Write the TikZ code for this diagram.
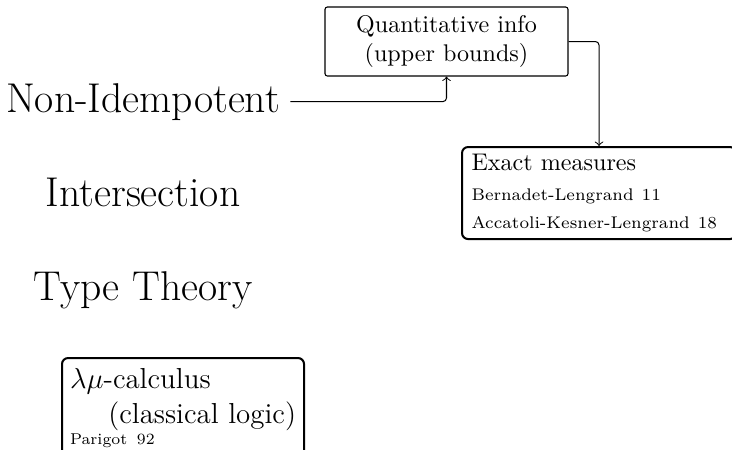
\documentclass[tikz,border=0pt]{standalone}
\usetikzlibrary{arrows}
\begin{document}
\begin{tikzpicture}[x=0.415pt,y=-0.415pt,
  big/.style={font=\LARGE, inner sep=0pt},
  qbox/.style={draw, rounded corners=1pt, line width=0.45pt, align=center,
    minimum width=243*0.415pt, minimum height=69*0.415pt, inner sep=0pt},
  refbox/.style={draw, rounded corners=2.5pt, line width=0.85pt, align=left,
    anchor=north west, inner sep=0pt},
  conn/.style={->, line width=0.42pt, rounded corners=1.5pt}
]
\clip (0,0) rectangle (732,449);
\node[qbox] (q) at (446.5,41.5) {Quantitative info\\(upper bounds)};
\node[big, anchor=base] (ni) at (143,112) {Non-Idempotent};
\node[big, anchor=base] (is) at (143,206) {Intersection};
\node[big, anchor=base] (tt) at (143,300) {Type Theory};
\node[refbox, minimum width=274*0.415pt, minimum height=92*0.415pt,
  text width=255*0.415pt, inner xsep=3.7pt, font=\fontsize{10}{12}\selectfont] (em) at (461,146)
  {Exact measures\\[0.6pt]
   {\scriptsize Bernadet-Lengrand 11}\\[-0.3pt]
   {\scriptsize Accatoli-Kesner-Lengrand 18}};
\node[refbox, minimum width=242*0.415pt, minimum height=100*0.415pt,
  text width=226*0.415pt, inner xsep=3.3pt, inner ysep=2.6pt, font=\fontsize{12}{14.5}\selectfont] (lm) at (61,357)
  {$\lambda\mu$-calculus\\
   \hfill(classical logic)\\[-5.5pt]
   {\fontsize{6.5}{7}\selectfont Parigot 92}};
\draw[conn] ([xshift=10*0.415pt]ni.east) -| (q.south);
\draw[conn] (q.east) -| (em.north);
\end{tikzpicture}
\end{document}
